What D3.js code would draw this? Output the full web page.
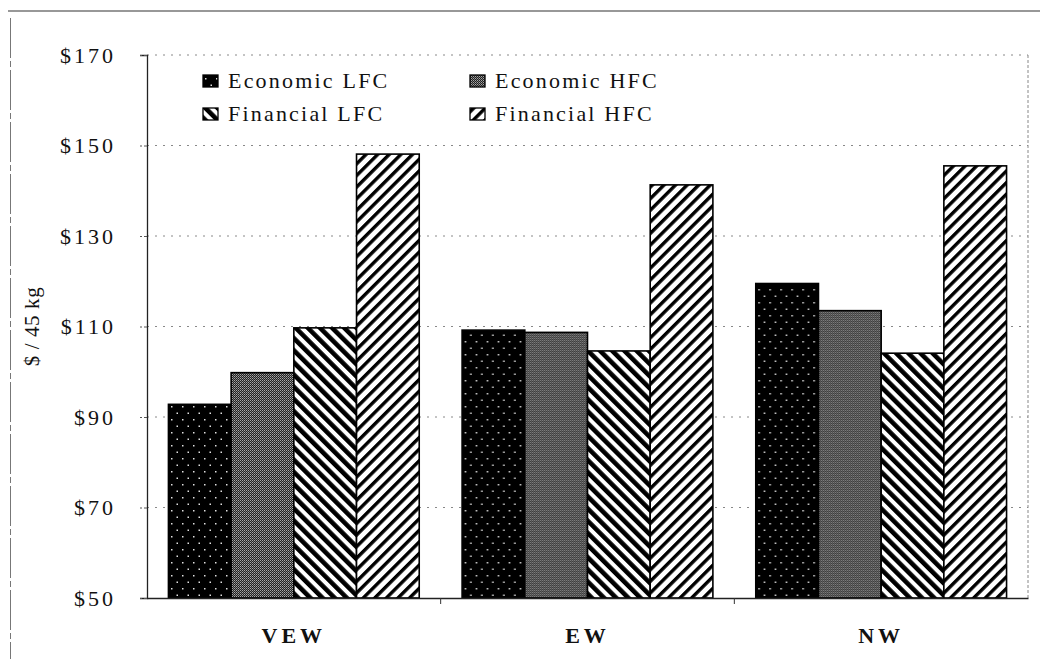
<!DOCTYPE html>
<html>
<head>
<meta charset="utf-8">
<script src="https://cdn.jsdelivr.net/npm/d3@7"></script>
<style>
  html, body { margin: 0; padding: 0; background: #fff; }
  svg { display: block; }
  text { font-family: "Liberation Serif", "Times New Roman", serif; fill: #111; }
</style>
</head>
<body>
<svg id="chart" width="1040" height="659"></svg>
<script>
// Cost per 45 kg by wheat class and cost basis
const categories = ["VEW", "EW", "NW"];
const seriesNames = ["Economic LFC", "Economic HFC", "Financial LFC", "Financial HFC"];
const economicLFC = [92.8, 109.2, 119.5];
const economicHFC = [99.8, 108.7, 113.5];
const financialLFC = [109.7, 104.6, 104.1];
const financialHFC = [148.1, 141.3, 145.5];
const yTicks = [50, 70, 90, 110, 130, 150, 170];
const yTitle = "$ / 45 kg";

const seriesValues = [economicLFC, economicHFC, financialLFC, financialHFC];
const patternIds = ["pat-dots", "pat-stipple", "pat-back", "pat-fwd"];

const svg = d3.select("#chart");
const plotLeft = 147, plotRight = 1028, plotTop = 55, plotBottom = 598;

// page frame lines
svg.append("line").attr("x1", 8).attr("x2", 1040).attr("y1", 11).attr("y2", 11)
  .attr("stroke", "#333").attr("stroke-width", 1.2);
svg.append("line").attr("x1", 10.5).attr("x2", 10.5).attr("y1", 18).attr("y2", 659)
  .attr("stroke", "#777").attr("stroke-width", 1).attr("stroke-dasharray", "40,3,6,3");

// fill patterns
const defs = svg.append("defs");

const dots = defs.append("pattern").attr("id", "pat-dots")
  .attr("patternUnits", "userSpaceOnUse").attr("width", 11).attr("height", 13);
dots.append("rect").attr("width", 11).attr("height", 13).attr("fill", "#000");
dots.append("rect").attr("x", 2).attr("y", 3).attr("width", 1.5).attr("height", 1.5).attr("fill", "#e0e0e0");
dots.append("rect").attr("x", 7.5).attr("y", 9.5).attr("width", 1.5).attr("height", 1.5).attr("fill", "#e0e0e0");

const stip = defs.append("pattern").attr("id", "pat-stipple")
  .attr("patternUnits", "userSpaceOnUse").attr("width", 2).attr("height", 2);
stip.append("rect").attr("width", 2).attr("height", 2).attr("fill", "#222");
stip.append("rect").attr("x", 1).attr("y", 0).attr("width", 1).attr("height", 1).attr("fill", "#a8a8a8");
stip.append("rect").attr("x", 0).attr("y", 1).attr("width", 1).attr("height", 1).attr("fill", "#777");

function stripes(id, angle, period, blackW) {
  const p = defs.append("pattern").attr("id", id)
    .attr("patternUnits", "userSpaceOnUse").attr("width", period).attr("height", period)
    .attr("patternTransform", `rotate(${angle})`);
  p.append("rect").attr("width", period).attr("height", period).attr("fill", "#fff");
  p.append("rect").attr("width", blackW).attr("height", period).attr("fill", "#000");
}
stripes("pat-back", -45, 8.6, 4.6);
stripes("pat-fwd", 45, 8.2, 3.4);

// scales
const x0 = d3.scaleBand().domain(categories).range([plotLeft, plotRight]).padding(0);
const x1 = d3.scaleBand().domain(seriesNames).range([0, x0.bandwidth()])
  .paddingInner(0).paddingOuter(0.342);
const y = d3.scaleLinear().domain([50, 170]).range([plotBottom, plotTop]);

// gridlines
svg.append("g").selectAll("line").data(yTicks.filter(d => d > 50)).join("line")
  .attr("x1", plotLeft).attr("x2", plotRight)
  .attr("y1", d => y(d)).attr("y2", d => y(d))
  .attr("stroke", "#888").attr("stroke-width", 1).attr("stroke-dasharray", "2,6");

// right border of plot area
svg.append("line").attr("x1", plotRight).attr("x2", plotRight).attr("y1", plotTop).attr("y2", plotBottom)
  .attr("stroke", "#888").attr("stroke-width", 1).attr("stroke-dasharray", "3,2");

// bars
const groups = svg.append("g").selectAll("g").data(categories).join("g")
  .attr("transform", d => `translate(${x0(d)},0)`);
groups.selectAll("rect")
  .data((c, i) => seriesNames.map((s, k) => ({ s, k, v: seriesValues[k][i] })))
  .join("rect")
  .attr("x", d => x1(d.s))
  .attr("y", d => y(d.v))
  .attr("width", x1.bandwidth())
  .attr("height", d => y(50) - y(d.v))
  .attr("fill", d => `url(#${patternIds[d.k]})`)
  .attr("stroke", "#000").attr("stroke-width", 1.6);

// y axis
const yAxis = svg.append("g").attr("transform", `translate(${plotLeft},0)`)
  .call(d3.axisLeft(y).tickValues(yTicks).tickFormat(d => "$" + d).tickSize(7).tickPadding(24));
yAxis.select(".domain").attr("stroke", "#222").attr("stroke-width", 1.3);
yAxis.selectAll(".tick line").attr("stroke", "#555").attr("stroke-dasharray", "3,2");
yAxis.selectAll(".tick text").style("font-size", "22px").style("letter-spacing", "3px")
  .style("font-family", "'Liberation Serif', serif").attr("fill", "#111");

// x axis
const xAxis = svg.append("g").attr("transform", `translate(0,${plotBottom})`)
  .call(d3.axisBottom(x0).tickSize(0).tickPadding(29));
xAxis.select(".domain").attr("stroke", "#222").attr("stroke-width", 1.5);
xAxis.selectAll(".tick text").style("font-size", "22px").style("font-weight", "bold")
  .style("letter-spacing", "4px").style("font-family", "'Liberation Serif', serif").attr("fill", "#111");
// category separators
svg.append("g").selectAll("line").data(categories.slice(1)).join("line")
  .attr("x1", d => x0(d)).attr("x2", d => x0(d))
  .attr("y1", plotBottom).attr("y2", plotBottom + 6)
  .attr("stroke", "#333").attr("stroke-width", 1);

// y axis title
svg.append("text")
  .attr("transform", `translate(39,${(plotTop + plotBottom) / 2}) rotate(-90)`)
  .attr("text-anchor", "middle")
  .style("font-size", "21px").style("letter-spacing", "0.6px")
  .text(yTitle);

// legend
const legendPos = [[203, 88], [470, 88], [203, 121], [470, 121]];
const legend = svg.append("g").selectAll("g").data(seriesNames).join("g")
  .attr("transform", (d, i) => `translate(${legendPos[i][0]},${legendPos[i][1]})`);
legend.append("rect")
  .attr("x", 0).attr("y", -13).attr("width", 15).attr("height", 12)
  .attr("fill", (d, i) => `url(#${patternIds[i]})`)
  .attr("stroke", "#000").attr("stroke-width", 1.3);
legend.append("text")
  .attr("x", 25).attr("y", 0)
  .style("font-size", "22px").style("letter-spacing", "2.2px")
  .text(d => d);
</script>
</body>
</html>
